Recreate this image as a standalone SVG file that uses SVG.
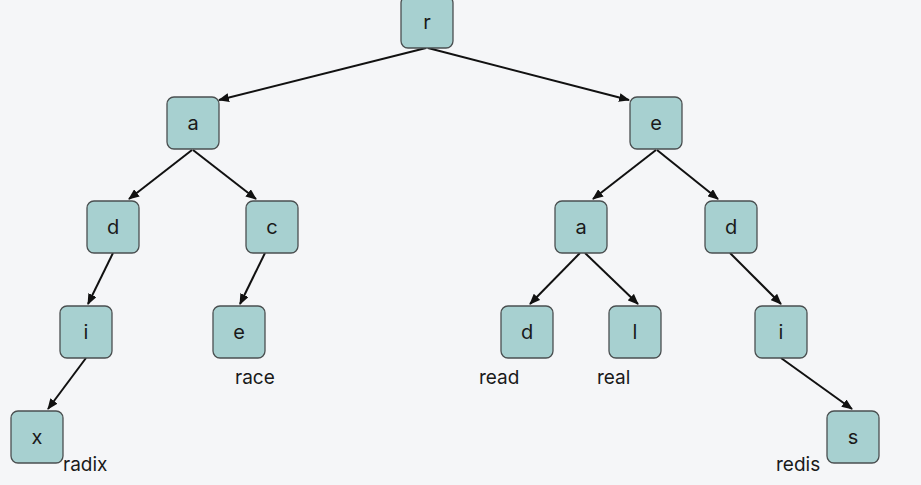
<svg xmlns="http://www.w3.org/2000/svg" width="921" height="485" viewBox="0 0 921 485">
<style>
.bg{fill:#f5f6f8}
.node rect{fill:#a7d0d0;stroke:#4a4f50;stroke-width:1.3}
.node text{font-family:Inter,"Liberation Sans",sans-serif;font-size:20px;fill:#1a1a1a;text-anchor:middle}
.lbl{font-family:Inter,"Liberation Sans",sans-serif;font-size:19px;fill:#1a1a1a}
.edges line{stroke:#111;stroke-width:2;marker-end:url(#ah)}
</style>
<defs>
<marker id="ah" markerUnits="userSpaceOnUse" markerWidth="11" markerHeight="9" refX="10" refY="4.5" orient="auto">
<path d="M0,0 L11,4.5 L0,9 z" fill="#111"/>
</marker>
</defs>
<rect class="bg" width="921" height="485"/>
<g id="edges" class="edges">
<line x1="426" y1="48" x2="219" y2="100"/>
<line x1="428" y1="48" x2="629" y2="100"/>
<line x1="192" y1="150" x2="129" y2="199"/>
<line x1="193" y1="150" x2="256" y2="199"/>
<line x1="113" y1="253" x2="88" y2="304"/>
<line x1="265" y1="253" x2="240" y2="304"/>
<line x1="86" y1="358" x2="48" y2="409"/>
<line x1="656" y1="150" x2="593" y2="199"/>
<line x1="657" y1="150" x2="718" y2="199"/>
<line x1="580" y1="253" x2="530" y2="304"/>
<line x1="585" y1="253" x2="638" y2="304"/>
<line x1="730" y1="253" x2="781" y2="304"/>
<line x1="781" y1="358" x2="852" y2="409"/>
</g>
<g id="n_r" class="node"><rect x="401" y="-4" width="52" height="52" rx="7"/><text x="427" y="29">r</text></g>
<g id="n_a" class="node"><rect x="167" y="97" width="52" height="52" rx="7"/><text x="193" y="130">a</text></g>
<g id="n_e" class="node"><rect x="630" y="97" width="52" height="52" rx="7"/><text x="656" y="130">e</text></g>
<g id="n_ad" class="node"><rect x="87" y="201" width="52" height="52" rx="7"/><text x="113" y="234">d</text></g>
<g id="n_ac" class="node"><rect x="246" y="201" width="52" height="52" rx="7"/><text x="272" y="234">c</text></g>
<g id="n_ea" class="node"><rect x="555" y="201" width="52" height="52" rx="7"/><text x="581" y="234">a</text></g>
<g id="n_ed" class="node"><rect x="705" y="201" width="52" height="52" rx="7"/><text x="731" y="234">d</text></g>
<g id="n_adi" class="node"><rect x="60" y="306" width="52" height="52" rx="7"/><text x="86" y="339">i</text></g>
<g id="n_ace" class="node"><rect x="213" y="306" width="52" height="52" rx="7"/><text x="239" y="339">e</text></g>
<g id="n_ead" class="node"><rect x="501" y="306" width="52" height="52" rx="7"/><text x="527" y="339">d</text></g>
<g id="n_eal" class="node"><rect x="609" y="306" width="52" height="52" rx="7"/><text x="635" y="339">l</text></g>
<g id="n_edi" class="node"><rect x="755" y="306" width="52" height="52" rx="7"/><text x="781" y="339">i</text></g>
<g id="n_adix" class="node"><rect x="11" y="411" width="52" height="52" rx="7"/><text x="37" y="444">x</text></g>
<g id="n_edis" class="node"><rect x="827" y="411" width="52" height="52" rx="7"/><text x="853" y="444">s</text></g>
<g id="labels">
<text class="lbl" x="63" y="471">radix</text>
<text class="lbl" x="235" y="384">race</text>
<text class="lbl" x="479" y="384">read</text>
<text class="lbl" x="597" y="384">real</text>
<text class="lbl" x="776" y="471">redis</text>
</g>
</svg>
